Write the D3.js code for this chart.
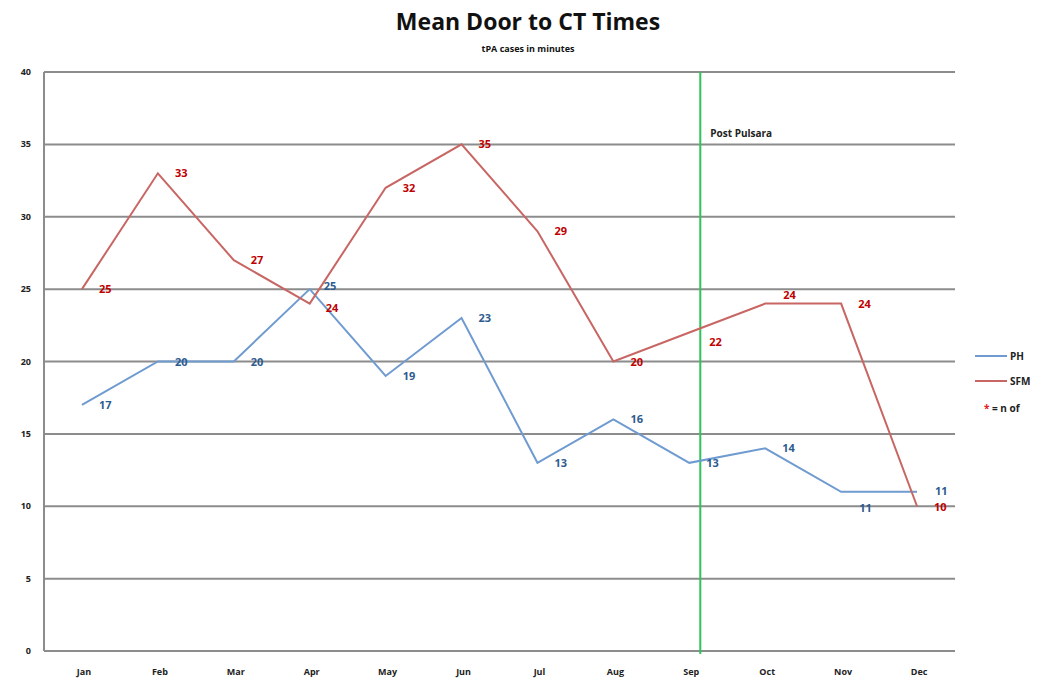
<!DOCTYPE html>
<html>
<head>
<meta charset="utf-8">
<script src="https://cdn.jsdelivr.net/npm/d3@7"></script>
<style>
  body { margin: 0; background: #fff; }
  text { font-family: "Open Sans", "Liberation Sans", sans-serif; }
</style>
</head>
<body>
<div class="display"></div>
<script>
// Mean door-to-CT times, two sites, one vertical "Post Pulsara" marker

const WIDTH = 1040;
const HEIGHT = 679;

const months = ['Jan', 'Feb', 'Mar', 'Apr', 'May', 'Jun', 'Jul', 'Aug', 'Sep', 'Oct', 'Nov', 'Dec'];
const phValues = [17, 20, 20, 25, 19, 23, 13, 16, 13, 14, 11, 11];
const sfmValues = [25, 33, 27, 24, 32, 35, 29, 20, 22, 24, 24, 10];
const yTicks = [0, 5, 10, 15, 20, 25, 30, 35, 40];
const markerMonth = 'Sep';
const markerLabel = 'Post Pulsara';

const plot = { left: 44, right: 955, top: 72, bottom: 651 };

const svg = d3.select('.display')
  .append('svg')
  .attr('width', WIDTH)
  .attr('height', HEIGHT);

const x = d3.scaleBand()
  .domain(months)
  .range([plot.left, plot.right]);

const y = d3.scaleLinear()
  .domain([0, 40])
  .range([plot.bottom, plot.top]);

const cx = m => x(m) + x.bandwidth() / 2;

// gridlines
svg.append('g')
  .selectAll('line')
  .data(yTicks)
  .enter()
  .append('line')
  .attr('x1', plot.left)
  .attr('x2', plot.right)
  .attr('y1', d => y(d))
  .attr('y2', d => y(d))
  .attr('stroke', '#8c8c8c')
  .attr('stroke-width', 2);

svg.append('line')
  .attr('x1', plot.left).attr('x2', plot.left)
  .attr('y1', plot.top).attr('y2', plot.bottom)
  .attr('stroke', '#8c8c8c')
  .attr('stroke-width', 2);

// y labels
svg.append('g')
  .selectAll('text')
  .data(yTicks)
  .enter()
  .append('text')
  .attr('x', 31)
  .attr('y', d => y(d) + 3)
  .attr('text-anchor', 'end')
  .attr('font-size', 9)
  .attr('font-weight', 'bold')
  .attr('fill', '#222')
  .text(d => d);

// x labels
svg.append('g')
  .selectAll('text')
  .data(months)
  .enter()
  .append('text')
  .attr('x', d => cx(d) + 2)
  .attr('y', 675)
  .attr('text-anchor', 'middle')
  .attr('font-size', 9)
  .attr('font-weight', 'bold')
  .attr('fill', '#222')
  .text(d => d);

// marker line
const markerX = cx(markerMonth) + 11;
svg.append('line')
  .attr('x1', markerX).attr('x2', markerX)
  .attr('y1', plot.top).attr('y2', plot.bottom + 3)
  .attr('stroke', '#2ec45a')
  .attr('stroke-width', 2);

svg.append('text')
  .attr('x', markerX + 10)
  .attr('y', 137)
  .attr('font-size', 10)
  .attr('font-weight', 'bold')
  .attr('fill', '#222')
  .text(markerLabel);

const line = d3.line()
  .x((d, i) => cx(months[i]))
  .y(d => y(d));

const series = [
  { name: 'PH', values: phValues, stroke: '#6f9bd0', label: '#2e5b8f' },
  { name: 'SFM', values: sfmValues, stroke: '#c86663', label: '#c00000' }
];

series.forEach(s => {
  svg.append('path')
    .datum(s.values)
    .attr('fill', 'none')
    .attr('stroke', s.stroke)
    .attr('stroke-width', 2)
    .attr('d', line);
});

// data labels; a few are nudged to avoid overlaps like in the original
const nudge = {
  'PH-10': [18, 16], 'SFM-8': [20, 9], 'SFM-9': [18, -9], 'SFM-3': [16, 4], 'PH-3': [14, -3],
  'PH-11': [18, -1], 'SFM-11': [17, 1]
};

series.forEach(s => {
  svg.append('g')
    .selectAll('text')
    .data(s.values)
    .enter()
    .append('text')
    .attr('x', (d, i) => cx(months[i]) + (nudge[s.name + '-' + i] || [17, 0])[0])
    .attr('y', (d, i) => y(d) + 4 + (nudge[s.name + '-' + i] || [17, 0])[1])
    .attr('font-size', 11)
    .attr('font-weight', 'bold')
    .attr('fill', s.label)
    .text(d => d);
});

// title
svg.append('text')
  .attr('x', 528)
  .attr('y', 30)
  .attr('text-anchor', 'middle')
  .attr('font-size', 23)
  .attr('font-weight', 'bold')
  .attr('fill', '#111')
  .text('Mean Door to CT Times');

svg.append('text')
  .attr('x', 528)
  .attr('y', 52)
  .attr('text-anchor', 'middle')
  .attr('font-size', 9)
  .attr('font-weight', 'bold')
  .attr('fill', '#111')
  .text('tPA cases in minutes');

// legend
const legend = svg.append('g');
series.forEach((s, i) => {
  const ly = 356 + i * 25;
  legend.append('line')
    .attr('x1', 975).attr('x2', 1007)
    .attr('y1', ly).attr('y2', ly)
    .attr('stroke', s.stroke)
    .attr('stroke-width', 2);
  legend.append('text')
    .attr('x', 1010)
    .attr('y', ly + 4)
    .attr('font-size', 10)
    .attr('font-weight', 'bold')
    .attr('fill', '#222')
    .text(s.name);
});
legend.append('text')
  .attr('x', 984)
  .attr('y', 412)
  .attr('font-size', 10)
  .attr('font-weight', 'bold')
  .attr('fill', '#222')
  .html('<tspan fill="#e02020">*</tspan> = n of');
</script>
</body>
</html>
